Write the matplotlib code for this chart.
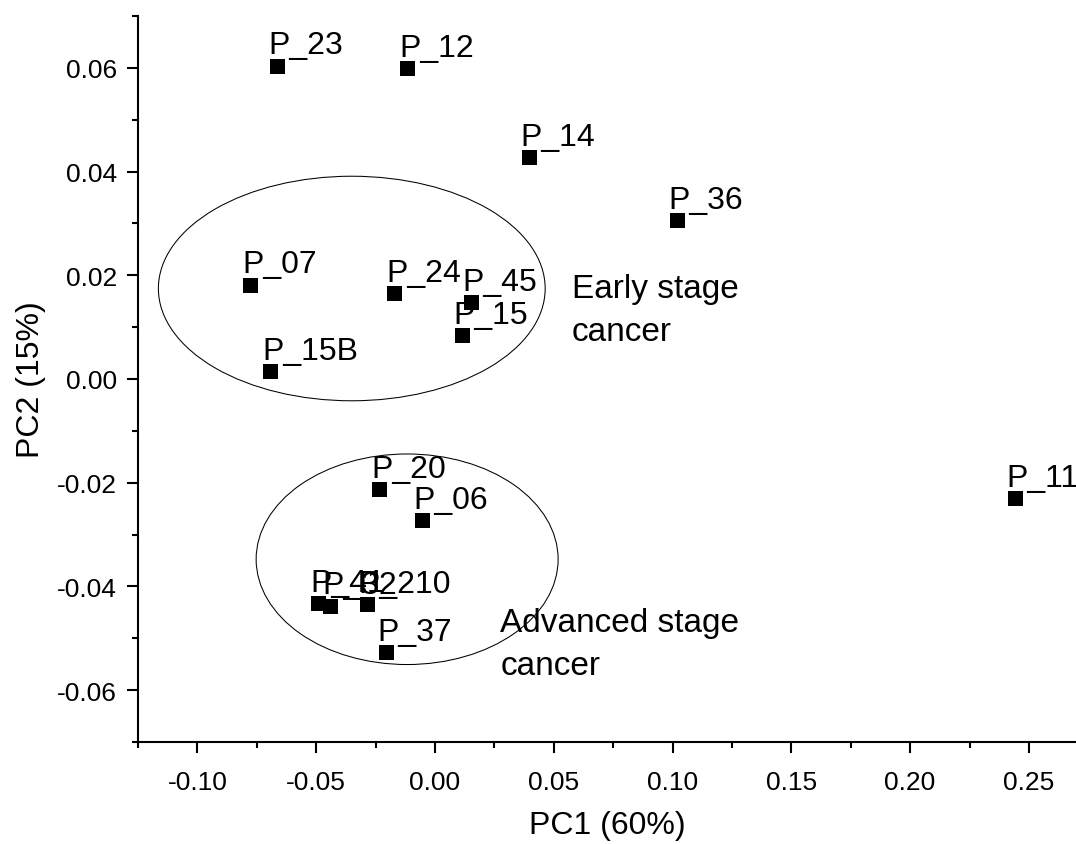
import numpy as np
import matplotlib
matplotlib.use('Agg')
from matplotlib import pyplot as plt
from matplotlib import ticker
from matplotlib.patches import Ellipse

plt.rcParams['font.family'] = ['Liberation Sans', 'DejaVu Sans']
plt.rcParams['axes.unicode_minus'] = False

# PCA scores
names = ['P_23', 'P_12', 'P_14', 'P_36', 'P_07', 'P_24', 'P_45', 'P_15', 'P_15B',
         'P_20', 'P_06', 'P_41', 'P_32', 'P_210', 'P_37', 'P_11']
pc1 = [-0.0666, -0.0116, 0.0397, 0.1018, -0.0777, -0.0171, 0.0151, 0.0113, -0.0693,
       -0.0234, -0.0056, -0.0491, -0.0440, -0.0285, -0.0207, 0.2440]
pc2 = [0.0604, 0.0599, 0.0428, 0.0306, 0.0182, 0.0166, 0.0148, 0.0085, 0.0015,
       -0.0213, -0.0272, -0.0432, -0.0437, -0.0434, -0.0527, -0.0230]

# group ellipses: centre x, centre y, width, height
group_text = ['Early stage\ncancer', 'Advanced stage\ncancer']
ell_cx = [-0.0350, -0.0117]
ell_cy = [0.01745, -0.03476]
ell_w = [0.1628, 0.1271]
ell_h = [0.0433, 0.0406]
# text anchor = baseline of the last line
text_x = [0.0576, 0.0275]
text_y = [0.0075, -0.0569]

fig = plt.figure(figsize=(10.76, 8.45), dpi=100)
ax = fig.add_axes([0.1282, 0.1207, 0.8722, 0.8592])

ax.plot(pc1, pc2, 's', color='black', markersize=10.8, markeredgewidth=0, clip_on=False)
for n, x, y in zip(names, pc1, pc2):
    ax.annotate(n, (x, y), xytext=(-8.4, 12.4), textcoords='offset pixels',
                ha='left', va='baseline', fontsize=23, annotation_clip=False)

for cx, cy, w, h in zip(ell_cx, ell_cy, ell_w, ell_h):
    ax.add_patch(Ellipse((cx, cy), w, h, fill=False, edgecolor='black', linewidth=0.75))

for t, x, y in zip(group_text, text_x, text_y):
    ax.text(x, y, t, fontsize=24, ha='left', va='baseline', linespacing=1.5)

ax.set_xlim(-0.125, 0.27)
ax.set_ylim(-0.07, 0.07)
ax.xaxis.set_major_locator(ticker.MultipleLocator(0.05))
ax.xaxis.set_minor_locator(ticker.MultipleLocator(0.025))
ax.yaxis.set_major_locator(ticker.MultipleLocator(0.02))
ax.yaxis.set_minor_locator(ticker.MultipleLocator(0.01))
ax.xaxis.set_major_formatter(ticker.FormatStrFormatter('%.2f'))
ax.yaxis.set_major_formatter(ticker.FormatStrFormatter('%.2f'))

for s in ['top', 'right']:
    ax.spines[s].set_visible(False)
for s in ['left', 'bottom']:
    ax.spines[s].set_linewidth(1.5)

ax.tick_params(which='major', direction='out', length=8, width=1.5, labelsize=19)
ax.tick_params(which='minor', direction='out', length=4.5, width=1.5)
ax.tick_params(axis='x', which='major', pad=12)
ax.tick_params(axis='y', which='major', pad=7)

ax.set_xlabel('PC1 (60%)', fontsize=23, labelpad=12)
ax.set_ylabel('PC2 (15%)', fontsize=23, labelpad=8)

fig.savefig('out.png', dpi=100)
